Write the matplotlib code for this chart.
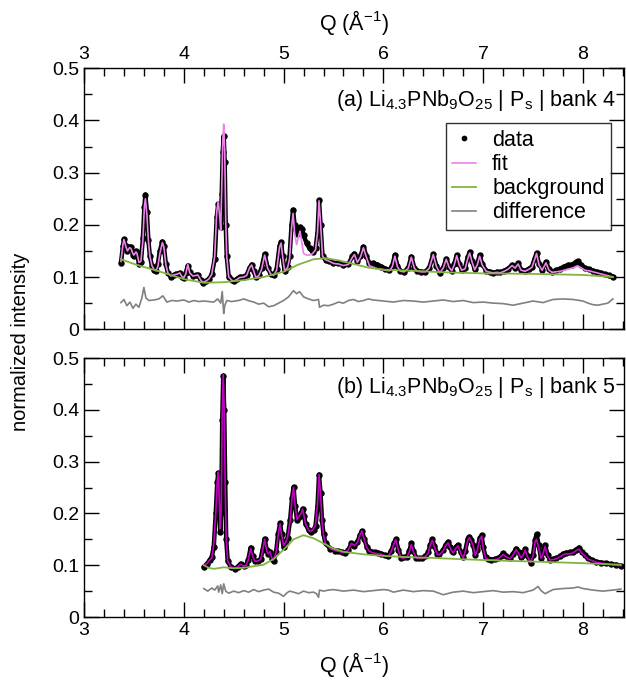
import matplotlib
matplotlib.use("Agg")
import matplotlib.pyplot as plt
from matplotlib.ticker import MultipleLocator, FormatStrFormatter, FuncFormatter

plt.rcParams['font.family'] = ['Liberation Sans', 'DejaVu Sans']
plt.rcParams['mathtext.default'] = 'regular'
plt.rcParams['font.size'] = 14

# ---- panel (a): bank 4 ----
q_a = [3.37, 3.39, 3.40, 3.42, 3.435, 3.455, 3.47, 3.49, 3.50, 3.52, 3.53, 3.55, 3.57, 3.59,
       3.605, 3.615, 3.63, 3.645, 3.66, 3.68, 3.70, 3.72, 3.74, 3.76, 3.785, 3.80, 3.82, 3.84,
       3.87, 3.90, 3.92, 3.94, 3.96, 3.98, 4.00, 4.02, 4.04, 4.06, 4.09, 4.12, 4.14, 4.17,
       4.19, 4.22, 4.25, 4.28, 4.31, 4.33, 4.345, 4.36, 4.37, 4.38, 4.39, 4.40, 4.41, 4.42,
       4.43, 4.45, 4.48, 4.50, 4.53, 4.56, 4.60, 4.63, 4.66, 4.68, 4.70, 4.72, 4.75, 4.78,
       4.81, 4.84, 4.87, 4.90, 4.93, 4.96, 4.975, 4.99, 5.01, 5.04, 5.06, 5.08, 5.095, 5.11,
       5.13, 5.15, 5.165, 5.18, 5.20, 5.23, 5.26, 5.29, 5.32, 5.34, 5.355, 5.37, 5.39, 5.42,
       5.46, 5.50, 5.55, 5.60, 5.65, 5.69, 5.71, 5.74, 5.77, 5.80, 5.83, 5.86, 5.90, 5.94,
       5.98, 6.02, 6.06, 6.09, 6.115, 6.14, 6.17, 6.21, 6.25, 6.28, 6.31, 6.34, 6.38, 6.42,
       6.46, 6.50, 6.53, 6.565, 6.60, 6.63, 6.66, 6.685, 6.71, 6.735, 6.76, 6.785, 6.82, 6.845,
       6.865, 6.89, 6.915, 6.94, 6.965, 6.99, 7.03, 7.07, 7.10, 7.14, 7.17, 7.21, 7.25, 7.29,
       7.32, 7.35, 7.38, 7.42, 7.46, 7.49, 7.515, 7.535, 7.56, 7.59, 7.63, 7.66, 7.69, 7.73,
       7.77, 7.81, 7.85, 7.89, 7.93, 7.95, 7.98, 8.02, 8.06, 8.10, 8.14, 8.18, 8.22, 8.26, 8.30]
data_a = [0.127, 0.160, 0.172, 0.160, 0.150, 0.158, 0.158, 0.143, 0.140, 0.150, 0.148, 0.125, 0.128, 0.175,
          0.235, 0.258, 0.225, 0.170, 0.140, 0.122, 0.113, 0.112, 0.125, 0.150, 0.168, 0.160, 0.125, 0.108,
          0.101, 0.103, 0.106, 0.105, 0.108, 0.100, 0.099, 0.108, 0.122, 0.110, 0.102, 0.103, 0.104, 0.094,
          0.089, 0.092, 0.096, 0.105, 0.135, 0.215, 0.240, 0.210, 0.195, 0.260, 0.340, 0.370, 0.320, 0.200,
          0.140, 0.100, 0.094, 0.092, 0.096, 0.100, 0.101, 0.104, 0.118, 0.124, 0.112, 0.101, 0.103, 0.118,
          0.144, 0.118, 0.106, 0.103, 0.115, 0.160, 0.167, 0.140, 0.112, 0.120, 0.140, 0.200, 0.229, 0.200,
          0.183, 0.192, 0.196, 0.192, 0.180, 0.165, 0.155, 0.148, 0.155, 0.185, 0.247, 0.200, 0.140, 0.133,
          0.130, 0.127, 0.126, 0.123, 0.125, 0.140, 0.145, 0.130, 0.140, 0.158, 0.140, 0.126, 0.126, 0.124,
          0.120, 0.116, 0.113, 0.122, 0.142, 0.122, 0.112, 0.110, 0.118, 0.139, 0.118, 0.112, 0.110, 0.110,
          0.118, 0.144, 0.122, 0.108, 0.118, 0.135, 0.120, 0.112, 0.125, 0.142, 0.125, 0.114, 0.118, 0.138,
          0.148, 0.130, 0.115, 0.125, 0.142, 0.125, 0.112, 0.110, 0.108, 0.110, 0.109, 0.112, 0.116, 0.123,
          0.118, 0.126, 0.114, 0.112, 0.116, 0.120, 0.135, 0.146, 0.125, 0.114, 0.129, 0.115, 0.110, 0.113,
          0.116, 0.120, 0.123, 0.124, 0.128, 0.130, 0.124, 0.117, 0.115, 0.112, 0.110, 0.108, 0.105, 0.103, 0.101]
fit_a = [0.130, 0.162, 0.172, 0.158, 0.150, 0.156, 0.155, 0.145, 0.142, 0.148, 0.146, 0.128, 0.130, 0.170,
         0.235, 0.250, 0.220, 0.170, 0.140, 0.122, 0.115, 0.112, 0.120, 0.145, 0.166, 0.158, 0.124, 0.108,
         0.102, 0.104, 0.105, 0.106, 0.108, 0.101, 0.099, 0.106, 0.124, 0.108, 0.102, 0.103, 0.104, 0.094,
         0.090, 0.092, 0.096, 0.105, 0.140, 0.225, 0.245, 0.215, 0.190, 0.270, 0.360, 0.393, 0.340, 0.210,
         0.140, 0.100, 0.094, 0.092, 0.095, 0.099, 0.100, 0.103, 0.118, 0.123, 0.112, 0.100, 0.102, 0.115,
         0.142, 0.117, 0.106, 0.103, 0.113, 0.158, 0.165, 0.140, 0.112, 0.118, 0.135, 0.195, 0.222, 0.185,
         0.162, 0.178, 0.188, 0.170, 0.145, 0.142, 0.142, 0.145, 0.152, 0.185, 0.246, 0.205, 0.140, 0.133,
         0.130, 0.126, 0.125, 0.122, 0.124, 0.138, 0.143, 0.128, 0.138, 0.156, 0.138, 0.122, 0.118, 0.116,
         0.115, 0.113, 0.112, 0.120, 0.140, 0.120, 0.111, 0.110, 0.117, 0.138, 0.117, 0.111, 0.110, 0.110,
         0.117, 0.143, 0.121, 0.108, 0.117, 0.134, 0.118, 0.112, 0.123, 0.141, 0.123, 0.113, 0.116, 0.135,
         0.146, 0.128, 0.114, 0.123, 0.140, 0.123, 0.111, 0.109, 0.108, 0.109, 0.108, 0.111, 0.115, 0.122,
         0.117, 0.125, 0.113, 0.111, 0.115, 0.119, 0.133, 0.145, 0.123, 0.113, 0.127, 0.113, 0.109, 0.110,
         0.111, 0.113, 0.115, 0.117, 0.120, 0.121, 0.118, 0.113, 0.112, 0.110, 0.108, 0.106, 0.104, 0.102, 0.100]
bq_a = [3.37, 3.5, 3.75, 4.0, 4.2, 4.4, 4.6, 4.8, 5.0, 5.15, 5.3, 5.42, 5.55, 5.7, 5.85, 6.0,
        6.3, 6.6, 7.0, 7.5, 8.0, 8.3]
bkg_a = [0.134, 0.125, 0.111, 0.096, 0.089, 0.090, 0.094, 0.100, 0.110, 0.124, 0.134, 0.136, 0.132,
         0.125, 0.118, 0.114, 0.112, 0.109, 0.107, 0.106, 0.104, 0.100]
dq_a = [3.37, 3.40, 3.43, 3.46, 3.49, 3.52, 3.55, 3.58, 3.60, 3.62, 3.65, 3.70, 3.75, 3.79, 3.83,
        3.88, 3.93, 4.00, 4.05, 4.10, 4.15, 4.20, 4.25, 4.30, 4.34, 4.37, 4.385, 4.40, 4.41, 4.43,
        4.48, 4.55, 4.60, 4.66, 4.70, 4.75, 4.80, 4.85, 4.90, 4.95, 5.00, 5.05, 5.10, 5.13, 5.16,
        5.20, 5.25, 5.30, 5.35, 5.36, 5.40, 5.45, 5.50, 5.55, 5.60, 5.65, 5.70, 5.75, 5.80, 5.85,
        5.90, 6.00, 6.10, 6.20, 6.30, 6.40, 6.50, 6.60, 6.70, 6.80, 6.90, 7.00, 7.10, 7.20, 7.30,
        7.40, 7.50, 7.60, 7.70, 7.80, 7.90, 8.00, 8.05, 8.10, 8.15, 8.20, 8.25, 8.30]
diff_a = [0.051, 0.057, 0.045, 0.052, 0.040, 0.048, 0.042, 0.060, 0.080, 0.060, 0.055, 0.056, 0.058,
          0.064, 0.052, 0.055, 0.054, 0.056, 0.052, 0.055, 0.053, 0.054, 0.053, 0.052, 0.058, 0.050,
          0.072, 0.030, 0.045, 0.055, 0.053, 0.055, 0.058, 0.054, 0.052, 0.048, 0.050, 0.043, 0.045,
          0.050, 0.055, 0.062, 0.074, 0.068, 0.072, 0.062, 0.058, 0.055, 0.057, 0.042, 0.046, 0.045,
          0.048, 0.052, 0.050, 0.055, 0.057, 0.053, 0.055, 0.058, 0.056, 0.054, 0.052, 0.055, 0.054,
          0.052, 0.054, 0.056, 0.053, 0.055, 0.051, 0.052, 0.050, 0.049, 0.046, 0.050, 0.054, 0.051,
          0.057, 0.058, 0.057, 0.054, 0.050, 0.047, 0.046, 0.048, 0.050, 0.058]

# ---- panel (b): bank 5 ----
q_b = [4.20, 4.23, 4.26, 4.28, 4.30, 4.32, 4.335, 4.345, 4.355, 4.365, 4.375, 4.385, 4.395, 4.405,
       4.415, 4.425, 4.44, 4.47, 4.51, 4.54, 4.57, 4.60, 4.625, 4.645, 4.67, 4.69, 4.71, 4.74,
       4.77, 4.79, 4.81, 4.83, 4.845, 4.865, 4.885, 4.90, 4.925, 4.945, 4.965, 4.98, 5.00, 5.02,
       5.04, 5.065, 5.085, 5.10, 5.115, 5.135, 5.155, 5.175, 5.19, 5.205, 5.22, 5.25, 5.27, 5.30,
       5.32, 5.34, 5.355, 5.37, 5.385, 5.40, 5.42, 5.47, 5.52, 5.55, 5.59, 5.62, 5.65, 5.68,
       5.71, 5.74, 5.765, 5.785, 5.81, 5.835, 5.86, 5.89, 5.92, 5.95, 5.98, 6.02, 6.05, 6.08,
       6.105, 6.125, 6.15, 6.18, 6.21, 6.235, 6.26, 6.28, 6.30, 6.33, 6.36, 6.39, 6.42, 6.45,
       6.47, 6.49, 6.51, 6.54, 6.56, 6.60, 6.625, 6.65, 6.67, 6.69, 6.70, 6.73, 6.75, 6.775,
       6.80, 6.82, 6.845, 6.86, 6.88, 6.90, 6.92, 6.94, 6.965, 6.985, 7.00, 7.025, 7.05, 7.08,
       7.12, 7.15, 7.18, 7.20, 7.23, 7.27, 7.30, 7.33, 7.355, 7.38, 7.40, 7.42, 7.445, 7.475,
       7.50, 7.52, 7.535, 7.555, 7.58, 7.60, 7.62, 7.645, 7.67, 7.70, 7.73, 7.77, 7.80, 7.83,
       7.87, 7.90, 7.93, 7.96, 7.99, 8.02, 8.05, 8.09, 8.13, 8.18, 8.23, 8.28, 8.33, 8.38]
data_b = [0.097, 0.102, 0.110, 0.116, 0.135, 0.200, 0.260, 0.278, 0.230, 0.165, 0.200, 0.380, 0.466, 0.400,
          0.260, 0.150, 0.108, 0.097, 0.093, 0.097, 0.103, 0.099, 0.100, 0.110, 0.134, 0.118, 0.108, 0.108,
          0.112, 0.130, 0.151, 0.130, 0.122, 0.125, 0.112, 0.109, 0.125, 0.160, 0.181, 0.160, 0.135, 0.142,
          0.152, 0.187, 0.230, 0.251, 0.215, 0.187, 0.193, 0.200, 0.209, 0.195, 0.180, 0.168, 0.164, 0.168,
          0.176, 0.215, 0.275, 0.240, 0.187, 0.160, 0.142, 0.132, 0.128, 0.127, 0.125, 0.124, 0.130, 0.142,
          0.138, 0.145, 0.158, 0.166, 0.150, 0.135, 0.128, 0.125, 0.125, 0.124, 0.122, 0.119, 0.118, 0.128,
          0.142, 0.150, 0.130, 0.114, 0.115, 0.116, 0.128, 0.142, 0.128, 0.114, 0.113, 0.113, 0.117, 0.125,
          0.140, 0.150, 0.138, 0.122, 0.121, 0.129, 0.140, 0.145, 0.135, 0.128, 0.126, 0.136, 0.139, 0.125,
          0.115, 0.128, 0.150, 0.155, 0.149, 0.140, 0.120, 0.130, 0.152, 0.158, 0.135, 0.115, 0.112, 0.111,
          0.112, 0.113, 0.118, 0.123, 0.117, 0.114, 0.122, 0.132, 0.125, 0.115, 0.120, 0.131, 0.118, 0.105,
          0.120, 0.148, 0.160, 0.140, 0.113, 0.125, 0.139, 0.120, 0.110, 0.112, 0.113, 0.117, 0.122, 0.124,
          0.125, 0.126, 0.130, 0.134, 0.126, 0.120, 0.113, 0.110, 0.107, 0.105, 0.104, 0.102, 0.101, 0.099]
fit_b = [0.100, 0.103, 0.110, 0.114, 0.140, 0.200, 0.262, 0.280, 0.230, 0.170, 0.210, 0.390, 0.468, 0.400,
         0.250, 0.150, 0.108, 0.097, 0.094, 0.097, 0.102, 0.098, 0.100, 0.110, 0.132, 0.118, 0.108, 0.108,
         0.111, 0.128, 0.150, 0.128, 0.122, 0.126, 0.112, 0.110, 0.125, 0.158, 0.180, 0.158, 0.138, 0.144,
         0.154, 0.185, 0.230, 0.250, 0.215, 0.188, 0.194, 0.200, 0.208, 0.195, 0.180, 0.168, 0.165, 0.170,
         0.178, 0.220, 0.275, 0.240, 0.185, 0.158, 0.142, 0.132, 0.128, 0.127, 0.125, 0.124, 0.130, 0.142,
         0.138, 0.144, 0.158, 0.166, 0.148, 0.134, 0.127, 0.124, 0.123, 0.122, 0.121, 0.118, 0.117, 0.127,
         0.141, 0.149, 0.128, 0.114, 0.114, 0.115, 0.126, 0.140, 0.126, 0.114, 0.113, 0.113, 0.116, 0.124,
         0.139, 0.148, 0.136, 0.121, 0.120, 0.128, 0.138, 0.143, 0.133, 0.126, 0.124, 0.134, 0.137, 0.123,
         0.114, 0.126, 0.148, 0.153, 0.147, 0.138, 0.119, 0.128, 0.150, 0.156, 0.133, 0.114, 0.111, 0.110,
         0.111, 0.112, 0.117, 0.121, 0.116, 0.113, 0.120, 0.130, 0.123, 0.114, 0.119, 0.129, 0.116, 0.106,
         0.118, 0.145, 0.150, 0.135, 0.113, 0.122, 0.136, 0.118, 0.110, 0.111, 0.112, 0.116, 0.120, 0.122,
         0.122, 0.124, 0.128, 0.131, 0.123, 0.118, 0.112, 0.109, 0.106, 0.104, 0.103, 0.101, 0.100, 0.099]
bq_b = [4.20, 4.25, 4.30, 4.40, 4.50, 4.60, 4.70, 4.80, 4.90, 5.00, 5.10, 5.20, 5.30, 5.40, 5.50,
        5.60, 5.80, 6.00, 6.20, 6.50, 7.00, 7.50, 8.00, 8.38]
bkg_b = [0.100, 0.095, 0.093, 0.096, 0.094, 0.095, 0.098, 0.101, 0.112, 0.130, 0.150, 0.158, 0.152,
         0.142, 0.132, 0.126, 0.121, 0.118, 0.116, 0.114, 0.110, 0.107, 0.104, 0.101]
dq_b = [4.20, 4.24, 4.28, 4.31, 4.34, 4.35, 4.37, 4.385, 4.40, 4.42, 4.45, 4.50, 4.55, 4.60, 4.65,
        4.70, 4.75, 4.80, 4.85, 4.90, 4.95, 5.00, 5.03, 5.06, 5.10, 5.15, 5.20, 5.25, 5.30, 5.33,
        5.35, 5.36, 5.40, 5.45, 5.50, 5.60, 5.70, 5.80, 5.90, 6.00, 6.05, 6.10, 6.15, 6.20, 6.30,
        6.40, 6.50, 6.60, 6.70, 6.80, 6.90, 7.00, 7.10, 7.20, 7.30, 7.40, 7.50, 7.55, 7.58, 7.62,
        7.70, 7.80, 7.90, 7.95, 8.00, 8.10, 8.20, 8.30, 8.38]
diff_b = [0.055, 0.050, 0.056, 0.052, 0.060, 0.048, 0.062, 0.045, 0.064, 0.050, 0.046, 0.050, 0.047,
          0.051, 0.048, 0.053, 0.049, 0.052, 0.054, 0.048, 0.046, 0.040, 0.046, 0.050, 0.048, 0.045,
          0.050, 0.047, 0.048, 0.045, 0.038, 0.052, 0.050, 0.052, 0.053, 0.050, 0.052, 0.049, 0.051,
          0.053, 0.052, 0.048, 0.050, 0.052, 0.049, 0.051, 0.050, 0.043, 0.048, 0.050, 0.047, 0.049,
          0.051, 0.048, 0.049, 0.047, 0.052, 0.059, 0.051, 0.045, 0.053, 0.055, 0.056, 0.058, 0.055,
          0.052, 0.050, 0.052, 0.054]

green = '#82b440'
grey = '#808080'

fig = plt.figure(figsize=(6.27, 6.83), dpi=100)
ax1 = fig.add_axes([0.134, 0.518, 0.861, 0.382])
ax2 = fig.add_axes([0.134, 0.0966, 0.861, 0.3792])

panels = [
    (ax1, q_a, data_a, fit_a, bq_a, bkg_a, dq_a, diff_a, 'violet',
     '(a) Li$_{4.3}$PNb$_9$O$_{25}$ | P$_s$ | bank 4', 0.875),
    (ax2, q_b, data_b, fit_b, bq_b, bkg_b, dq_b, diff_b, '#c400c4',
     '(b) Li$_{4.3}$PNb$_9$O$_{25}$ | P$_s$ | bank 5', 0.885),
]

for ax, q, d, f, bq, b, dq, df, fc, label, ty in panels:
    # dense measured points look like a thick black band
    ax.plot(q, d, '-', color='black', lw=3.2, zorder=2, solid_capstyle='round')
    ax.plot(q, d, 'o', color='black', ms=4.6, mew=0, label='data', zorder=2)
    ax.plot(q, f, '-', color=fc, lw=1.2, label='fit', zorder=3)
    ax.plot(bq, b, '-', color=green, lw=1.3, label='background', zorder=3)
    ax.plot(dq, df, '-', color=grey, lw=1.2, label='difference', zorder=3)
    ax.set_xlim(3, 8.41)
    ax.set_ylim(0, 0.5)
    ax.xaxis.set_major_locator(MultipleLocator(1))
    ax.xaxis.set_minor_locator(MultipleLocator(0.2))
    ax.yaxis.set_major_locator(MultipleLocator(0.1))
    ax.yaxis.set_minor_locator(MultipleLocator(0.05))
    ax.yaxis.set_major_formatter(FuncFormatter(lambda v, p: '{:g}'.format(round(v, 2))))
    ax.tick_params(which='both', direction='in', top=True, right=True, labelsize=14, width=1)
    ax.tick_params(which='major', length=11)
    ax.tick_params(which='minor', length=5.5)
    for s in ax.spines.values():
        s.set_linewidth(1)
    ax.text(0.984, ty, label, transform=ax.transAxes, ha='right', va='center', fontsize=15.5)

ax1.tick_params(labelbottom=False, labeltop=True)
ax1.xaxis.set_major_formatter(FormatStrFormatter('%d'))
ax1.xaxis.set_label_position('top')
ax1.set_xlabel('Q (Å$^{-1}$)', fontsize=15.5, labelpad=12)
ax2.xaxis.set_major_formatter(FormatStrFormatter('%d'))
ax2.set_xlabel('Q (Å$^{-1}$)', fontsize=15.5, labelpad=8)

fig.text(0.032, 0.5, 'normalized intensity', rotation=90, ha='center', va='center', fontsize=14.5)

leg = ax1.legend(loc='upper right', bbox_to_anchor=(0.976, 0.789), borderaxespad=0, fontsize=15.5,
                 frameon=True, fancybox=False, edgecolor='black', handlelength=1.1, borderpad=0.3,
                 labelspacing=0.15, handletextpad=0.75, markerscale=0.9)
leg.get_frame().set_linewidth(1)

fig.savefig('out.png', dpi=100)
